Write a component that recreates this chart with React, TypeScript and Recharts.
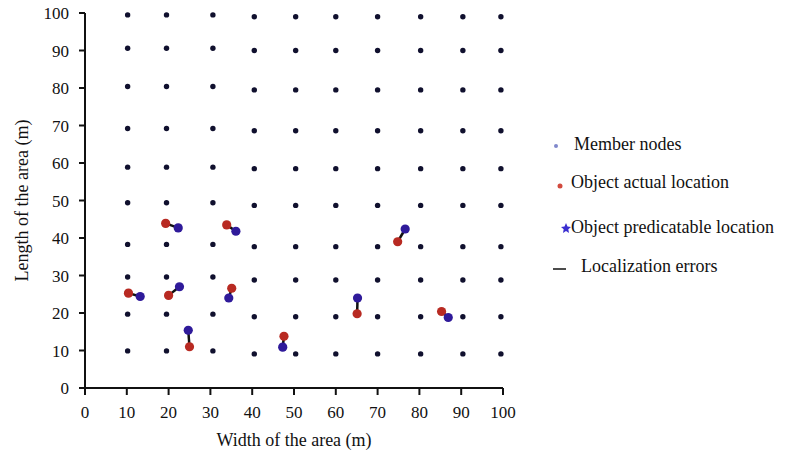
import { ScatterChart, Scatter, XAxis, YAxis, ReferenceLine } from "recharts";

// member node grid (slightly uneven)
const nodeX = [10.2, 19.5, 30.6, 40.5, 50.4, 60.0, 70.0, 80.3, 90.4, 99.5];
const nodeYLeft = [99.5, 90.6, 80.4, 69.2, 58.9, 49.4, 38.3, 29.6, 19.7, 9.9];
const nodeYRight = [99.0, 90.0, 79.5, 68.6, 58.5, 48.7, 37.7, 28.8, 19.0, 9.1];

// object actual vs predicted locations
const actualX = [10.4, 19.3, 33.9, 20.0, 35.1, 25.0, 47.6, 74.8, 65.1, 85.3];
const actualY = [25.3, 43.9, 43.5, 24.7, 26.6, 11.0, 13.8, 39.0, 19.8, 20.4];
const predX = [13.2, 22.3, 36.1, 22.6, 34.4, 24.7, 47.3, 76.6, 65.2, 86.9];
const predY = [24.4, 42.7, 41.8, 27.0, 24.0, 15.4, 10.9, 42.4, 24.0, 18.8];

const ticks = [0, 10, 20, 30, 40, 50, 60, 70, 80, 90, 100];

const FONT = '"Liberation Serif", "Times New Roman", serif';

const nodes = nodeX.flatMap((x, i) =>
  (i < 3 ? nodeYLeft : nodeYRight).map((y) => ({ x, y }))
);
const actual = actualX.map((x, i) => ({ x, y: actualY[i] }));
const predicted = predX.map((x, i) => ({ x, y: predY[i] }));

const dot = (r: number, fill: string) => (p: any) =>
  <circle cx={p.cx} cy={p.cy} r={r} fill={fill} />;

function Legend() {
  const row = { position: "absolute" as const, whiteSpace: "nowrap" as const, fontSize: 18, lineHeight: "20px" };
  return (
    <div style={{ position: "absolute", left: 0, top: 0, fontFamily: FONT, color: "#111" }}>
      <svg width={785} height={453} style={{ position: "absolute", left: 0, top: 0 }}>
        <circle cx={556} cy={146} r={2} fill="#8088cc" />
        <circle cx={560} cy={186} r={2.5} fill="#d24a3e" />
        <polygon
          points="566,223 567.5,226.5 571,227 568.3,229.3 569,233 566,231 563,233 563.7,229.3 561,227 564.5,226.5"
          fill="#3a2ed0"
        />
        <line x1={553} x2={566} y1={269} y2={269} stroke="#111" strokeWidth={1.5} />
      </svg>
      <div style={{ ...row, left: 574, top: 134 }}>Member nodes</div>
      <div style={{ ...row, left: 571, top: 172 }}>Object actual location</div>
      <div style={{ ...row, left: 571, top: 217 }}>Object predicatable location</div>
      <div style={{ ...row, left: 581, top: 256 }}>Localization errors</div>
    </div>
  );
}

export default function App() {
  return (
    <div style={{ position: "relative", width: 785, height: 453, background: "#fff" }}>
      <style>{"body{margin:0}"}</style>
      <ScatterChart
        width={785}
        height={453}
        margin={{ top: 13, right: 282, bottom: 0, left: 0 }}
        style={{ fontFamily: FONT }}
      >
        <XAxis
          type="number"
          dataKey="x"
          domain={[0, 100]}
          ticks={ticks}
          height={65}
          tickSize={7}
          tickMargin={11}
          stroke="#111"
          strokeWidth={2}
          tick={{ fill: "#111", fontSize: 17 }}
          label={{ value: "Width of the area (m)", position: "insideBottom", offset: 7, fill: "#111", fontSize: 18 }}
        />
        <YAxis
          type="number"
          dataKey="y"
          domain={[0, 100]}
          ticks={ticks}
          width={85}
          tickSize={6}
          tickMargin={10}
          stroke="#111"
          strokeWidth={2}
          tick={{ fill: "#111", fontSize: 17 }}
          label={{ value: "Length of the area (m)", angle: -90, position: "insideLeft", offset: 22, fill: "#111", fontSize: 18, style: { textAnchor: "middle" } }}
        />
        <Scatter data={nodes} shape={dot(2.7, "#10102e")} isAnimationActive={false} />
        {actual.map((a, i) => (
          <ReferenceLine
            key={i}
            segment={[a, predicted[i]]}
            stroke="#111"
            strokeWidth={2.5}
          />
        ))}
        <Scatter data={actual} shape={dot(4.6, "#b82a22")} isAnimationActive={false} />
        <Scatter data={predicted} shape={dot(4.6, "#2f1a9a")} isAnimationActive={false} />
      </ScatterChart>
      <Legend />
    </div>
  );
}
